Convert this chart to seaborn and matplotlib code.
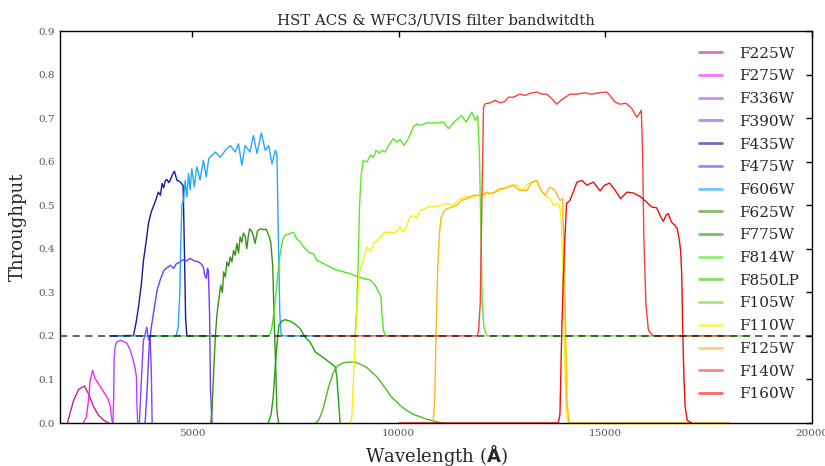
import numpy as np
import pandas as pd
import matplotlib
matplotlib.use("Agg")
import matplotlib.pyplot as plt
from matplotlib.lines import Line2D
import seaborn as sns

# ---------------- data (wavelength in Angstrom, raw throughput) ----------------
filters = ["F225W", "F275W", "F336W", "F390W", "F435W", "F475W", "F606W", "F625W",
           "F775W", "F814W", "F850LP", "F105W", "F110W", "F125W", "F140W", "F160W"]
colors = ["#c0148a", "#f01ef0", "#bb33ff", "#7b3cff", "#0c0c8c", "#6a30ff", "#18a2ff", "#2f8a0c",
          "#12a000", "#4ae414", "#3cbc10", "#58e41e", "#f5f000", "#ffb214", "#ff3434", "#f00000"]
offsets = [0, 0, 0, 0, 0.2, 0, 0.2, 0, 0, 0.2, 0, 0.2, 0, 0, 0.2, 0]

wl_F225W = [1980, 2050, 2130, 2250, 2390, 2490, 2610, 2730, 2860, 2980]
tp_F225W = [0, 0.025, 0.052, 0.077, 0.085, 0.067, 0.038, 0.018, 0.006, 0]

wl_F275W = [2360, 2440, 2490, 2530, 2590, 2650, 2730, 2820, 2900, 2960, 3020, 3040, 3070]
tp_F275W = [0, 0.014, 0.052, 0.098, 0.121, 0.102, 0.09, 0.077, 0.065, 0.056, 0.037, 0.018, 0]

wl_F336W = [3080, 3100, 3110, 3140, 3180, 3220, 3260, 3320, 3380, 3420, 3460, 3500, 3540,
            3570, 3610, 3650, 3660, 3680]
tp_F336W = [0, 0.06, 0.15, 0.178, 0.186, 0.188, 0.19, 0.188, 0.185, 0.183, 0.175, 0.167, 0.155,
            0.144, 0.13, 0.106, 0.05, 0]

wl_F390W = [3720, 3770, 3820, 3850, 3900, 3920, 3950, 3980, 4010, 4030]
tp_F390W = [0, 0.1, 0.19, 0.2, 0.22, 0.205, 0.19, 0.2, 0.12, 0]

wl_F435W = [3000, 3580, 3640, 3700, 3770, 3820, 3890, 3940, 4010, 4060, 4130, 4180, 4230, 4270,
            4310, 4350, 4390, 4430, 4470, 4520, 4570, 4630, 4690, 4730, 4780, 4790, 4820, 4840,
            4870, 5500]
tp_F435W = [0, 0.001, 0.03, 0.066, 0.12, 0.173, 0.22, 0.258, 0.285, 0.297, 0.315, 0.33, 0.323,
            0.35, 0.34, 0.357, 0.359, 0.352, 0.358, 0.37, 0.378, 0.357, 0.355, 0.351, 0.345, 0.3,
            0.15, 0.04, 0, 0]

wl_F475W = [3860, 3910, 3960, 4010, 4060, 4150, 4230, 4310, 4370, 4470, 4550, 4610, 4710, 4780,
            4860, 4950, 5050, 5150, 5220, 5270, 5300, 5340, 5370, 5390, 5420, 5440, 5480]
tp_F475W = [0, 0.08, 0.18, 0.22, 0.251, 0.305, 0.33, 0.35, 0.355, 0.362, 0.355, 0.365, 0.37,
            0.375, 0.372, 0.378, 0.372, 0.37, 0.365, 0.358, 0.34, 0.332, 0.355, 0.35, 0.25, 0.08, 0]

wl_F606W = [3000, 4610, 4660, 4700, 4720, 4750, 4790, 4830, 4870, 4910, 4950, 4990, 5050, 5110,
            5190, 5270, 5340, 5400, 5480, 5560, 5680, 5800, 5920, 6040, 6120, 6200, 6280, 6400,
            6480, 6570, 6670, 6770, 6850, 6930, 7010, 7050, 7080, 7120, 7150, 7200, 8000]
tp_F606W = [0, 0, 0.02, 0.1, 0.2, 0.3, 0.311, 0.357, 0.319, 0.373, 0.335, 0.384, 0.342, 0.388,
            0.358, 0.403, 0.365, 0.407, 0.415, 0.422, 0.41, 0.426, 0.437, 0.422, 0.441, 0.392,
            0.437, 0.422, 0.46, 0.419, 0.466, 0.426, 0.437, 0.395, 0.426, 0.419, 0.25, 0.05,
            0.005, 0, 0]

wl_F625W = [5450, 5480, 5520, 5560, 5600, 5640, 5690, 5730, 5760, 5800, 5840, 5880, 5920, 5960,
            6000, 6040, 6080, 6120, 6160, 6200, 6240, 6280, 6320, 6360, 6390, 6440, 6480, 6520,
            6580, 6650, 6730, 6790, 6850, 6900, 6950, 6980, 7020, 7050, 7090]
tp_F625W = [0, 0.03, 0.12, 0.2, 0.25, 0.281, 0.316, 0.3, 0.347, 0.335, 0.37, 0.36, 0.381, 0.37,
            0.396, 0.385, 0.412, 0.39, 0.427, 0.415, 0.436, 0.43, 0.4, 0.43, 0.446, 0.44, 0.43,
            0.412, 0.441, 0.446, 0.444, 0.445, 0.431, 0.416, 0.358, 0.243, 0.129, 0.029, 0]

wl_F775W = [6840, 6910, 6960, 7010, 7060, 7100, 7180, 7250, 7370, 7490, 7610, 7730, 7850, 7980,
            8100, 8260, 8380, 8460, 8500, 8540, 8580]
tp_F775W = [0, 0.02, 0.06, 0.13, 0.19, 0.225, 0.235, 0.237, 0.234, 0.227, 0.217, 0.197, 0.186,
            0.163, 0.155, 0.144, 0.135, 0.129, 0.106, 0.052, 0]

wl_F814W = [4000, 6850, 6890, 6930, 6970, 7010, 7050, 7090, 7130, 7170, 7210, 7250, 7310, 7370,
            7450, 7530, 7610, 7690, 7780, 7850, 7930, 8020, 8100, 8180, 8260, 8340, 8500, 8660,
            8820, 8940, 9060, 9190, 9310, 9430, 9530, 9570, 9590, 9630, 9670, 11000]
tp_F814W = [0, 0, 0.005, 0.02, 0.05, 0.082, 0.12, 0.158, 0.19, 0.212, 0.225, 0.231, 0.233, 0.235,
            0.238, 0.223, 0.216, 0.205, 0.196, 0.19, 0.189, 0.173, 0.17, 0.166, 0.162, 0.158,
            0.151, 0.147, 0.143, 0.138, 0.134, 0.131, 0.128, 0.116, 0.097, 0.09, 0.051, 0.013, 0, 0]

wl_F850LP = [7980, 8050, 8100, 8180, 8300, 8420, 8530, 8650, 8770, 8870, 8970, 9090, 9230, 9330,
             9470, 9570, 9710, 9810, 9950, 10060, 10190, 10350, 10520, 10660, 10840, 10950, 11050]
tp_F850LP = [0, 0.005, 0.015, 0.037, 0.083, 0.117, 0.132, 0.138, 0.14, 0.14, 0.139, 0.134, 0.127,
             0.118, 0.106, 0.093, 0.075, 0.061, 0.048, 0.038, 0.029, 0.02, 0.014, 0.009, 0.005,
             0.002, 0]

wl_F105W = [8000, 8940, 8980, 9020, 9050, 9090, 9140, 9230, 9310, 9390, 9450, 9530, 9590, 9670,
            9750, 9870, 9950, 10030, 10130, 10230, 10350, 10440, 10520, 10680, 10920, 11080,
            11200, 11360, 11520, 11630, 11770, 11850, 11910, 11950, 11990, 12020, 12060, 12130,
            18500]
tp_F105W = [0, 0, 0.06, 0.18, 0.3, 0.37, 0.403, 0.399, 0.415, 0.41, 0.426, 0.42, 0.426, 0.422,
            0.437, 0.453, 0.445, 0.451, 0.437, 0.453, 0.48, 0.487, 0.483, 0.489, 0.489, 0.491,
            0.476, 0.493, 0.506, 0.491, 0.514, 0.495, 0.505, 0.418, 0.227, 0.074, 0.02, 0, 0]

wl_F110W = [8820, 8860, 8900, 8940, 8980, 9040, 9090, 9140, 9230, 9310, 9390, 9470, 9550, 9670,
            9790, 9910, 10030, 10110, 10190, 10270, 10350, 10440, 10520, 10640, 10720, 10880,
            11000, 11160, 11320, 11480, 11650, 11810, 11970, 12130, 12330, 12530, 12690, 12860,
            12980, 13140, 13260, 13340, 13420, 13540, 13660, 13740, 13840, 13890, 13930, 13980,
            14010, 14050, 14100, 18000]
tp_F110W = [0, 0.01, 0.098, 0.18, 0.251, 0.343, 0.36, 0.373, 0.404, 0.395, 0.412, 0.419, 0.427,
            0.438, 0.438, 0.436, 0.45, 0.438, 0.452, 0.473, 0.476, 0.47, 0.488, 0.492, 0.497,
            0.497, 0.499, 0.504, 0.5, 0.515, 0.52, 0.518, 0.525, 0.525, 0.53, 0.538, 0.546, 0.546,
            0.534, 0.55, 0.553, 0.557, 0.538, 0.523, 0.515, 0.5, 0.504, 0.5, 0.47, 0.33, 0.15,
            0.03, 0, 0]

wl_F125W = [10830, 10870, 10900, 10940, 10980, 11020, 11080, 11160, 11280, 11400, 11520, 11650,
            11810, 11970, 12130, 12210, 12290, 12410, 12450, 12610, 12770, 12930, 13100, 13220,
            13340, 13440, 13540, 13660, 13780, 13900, 13960, 14000, 14040, 14070, 14120, 18000]
tp_F125W = [0, 0.05, 0.2, 0.35, 0.43, 0.47, 0.484, 0.492, 0.495, 0.5, 0.511, 0.515, 0.523, 0.523,
            0.53, 0.527, 0.528, 0.536, 0.538, 0.54, 0.546, 0.534, 0.534, 0.553, 0.557, 0.534,
            0.523, 0.542, 0.534, 0.511, 0.515, 0.4, 0.2, 0.05, 0, 0]

wl_F140W = [8000, 11890, 11930, 11970, 12010, 12050, 12090, 12210, 12330, 12450, 12570, 12650,
            12770, 12860, 12930, 13060, 13180, 13340, 13460, 13580, 13700, 13820, 13940, 14140,
            14310, 14510, 14670, 14830, 15030, 15110, 15230, 15350, 15500, 15640, 15760, 15820,
            15870, 15900, 15930, 15980, 16040, 16160, 18000]
tp_F140W = [0, 0, 0.01, 0.074, 0.304, 0.525, 0.533, 0.535, 0.541, 0.535, 0.538, 0.548, 0.548,
            0.552, 0.555, 0.552, 0.557, 0.56, 0.555, 0.555, 0.545, 0.532, 0.542, 0.555, 0.555,
            0.558, 0.555, 0.558, 0.56, 0.552, 0.537, 0.532, 0.534, 0.522, 0.502, 0.51, 0.518,
            0.418, 0.227, 0.074, 0.013, 0, 0]

wl_F160W = [10000, 13860, 13900, 13940, 13980, 14020, 14060, 14140, 14220, 14310, 14430, 14550,
            14710, 14870, 14970, 15100, 15230, 15370, 15520, 15680, 15840, 16000, 16120, 16240,
            16320, 16400, 16470, 16520, 16600, 16680, 16740, 16790, 16820, 16850, 16870, 16900,
            16930, 16980, 17090]
tp_F160W = [0, 0, 0.02, 0.197, 0.33, 0.427, 0.504, 0.511, 0.53, 0.553, 0.557, 0.546, 0.553,
            0.533, 0.545, 0.551, 0.535, 0.515, 0.53, 0.528, 0.52, 0.507, 0.496, 0.494, 0.477,
            0.463, 0.477, 0.481, 0.461, 0.454, 0.446, 0.419, 0.396, 0.335, 0.22, 0.106, 0.037,
            0.006, 0]

x_ticks = [5000, 10000, 15000, 20000]
y_ticks = [0.0, 0.1, 0.2, 0.3, 0.4, 0.5, 0.6, 0.7, 0.8, 0.9]
baseline = 0.2

curves = {
    "F225W": (wl_F225W, tp_F225W), "F275W": (wl_F275W, tp_F275W),
    "F336W": (wl_F336W, tp_F336W), "F390W": (wl_F390W, tp_F390W),
    "F435W": (wl_F435W, tp_F435W), "F475W": (wl_F475W, tp_F475W),
    "F606W": (wl_F606W, tp_F606W), "F625W": (wl_F625W, tp_F625W),
    "F775W": (wl_F775W, tp_F775W), "F814W": (wl_F814W, tp_F814W),
    "F850LP": (wl_F850LP, tp_F850LP), "F105W": (wl_F105W, tp_F105W),
    "F110W": (wl_F110W, tp_F110W), "F125W": (wl_F125W, tp_F125W),
    "F140W": (wl_F140W, tp_F140W), "F160W": (wl_F160W, tp_F160W),
}

frames = []
for name, off in zip(filters, offsets):
    wl, tp = curves[name]
    frames.append(pd.DataFrame({"filter": name, "wavelength": wl,
                                "throughput": np.asarray(tp) + off}))
df = pd.concat(frames, ignore_index=True)

# ---------------- style ----------------
sns.set_style("white")
plt.rcParams["font.family"] = ["DejaVu Serif"]
plt.rcParams["axes.linewidth"] = 1.0

fig = plt.figure(figsize=(8.25, 4.66), dpi=100)
ax = fig.add_axes([0.07273, 0.09227, 0.91152, 0.84120])

for name, col in zip(filters, colors):
    sub = df[df["filter"] == name]
    sns.lineplot(data=sub, x="wavelength", y="throughput", color=col, lw=1.0,
                 alpha=0.95, estimator=None, sort=False, legend=False, ax=ax)

ax.axhline(baseline, color="k", alpha=0.65, lw=1.3, dashes=(4, 3), zorder=3)

ax.set_xlim(1800, 20000)
ax.set_ylim(0, 0.9)
ax.set_xticks(x_ticks)
ax.set_yticks(y_ticks)
ax.set_yticklabels([f"{v:.1f}" for v in y_ticks])
ax.tick_params(direction="in", top=True, right=True, length=4, width=1,
               labelsize=7.5, labelcolor="#555555", color="k", pad=4)
for s in ax.spines.values():
    s.set_color("k")
    s.set_visible(True)

ax.set_title("HST ACS & WFC3/UVIS filter bandwitdth", fontsize=10.7, pad=5)
ax.set_xlabel("Wavelength ($\\mathbf{\\AA}$)", fontsize=13, labelpad=4)
ax.set_ylabel("Throughput", fontsize=13, labelpad=8)

handles = [Line2D([0], [0], color=c, lw=2, alpha=0.6) for c in colors]
ax.legend(handles, filters, loc="upper left", bbox_to_anchor=(0.85, 0.96),
          frameon=False, fontsize=11, handlelength=1.5, handletextpad=1.1,
          labelspacing=0.57, borderpad=0, borderaxespad=0)

fig.savefig("out.png", dpi=100)
